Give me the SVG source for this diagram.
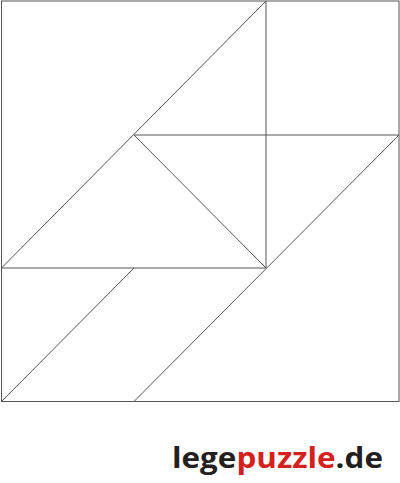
<svg xmlns="http://www.w3.org/2000/svg" width="400" height="483" viewBox="0 0 400 483">
<style>
.p{fill:none;stroke:#555;stroke-width:1}
.logo{font-family:"Open Sans","Liberation Sans",sans-serif;font-weight:bold;font-size:29px}
</style>
<rect width="400" height="483" fill="#fff"/>
<g id="puzzle">
<rect id="frame" class="p" x="1.5" y="1" width="397.5" height="400.5"/>
<line class="p" x1="266" y1="1" x2="1.5" y2="268"/>
<line class="p" x1="266" y1="1" x2="266" y2="268"/>
<line class="p" x1="134" y1="135" x2="399" y2="135"/>
<line class="p" x1="1.5" y1="268" x2="266" y2="268"/>
<line class="p" x1="134" y1="135" x2="266" y2="268"/>
<line class="p" x1="399" y1="135" x2="134" y2="401.5"/>
<line class="p" x1="134" y1="268" x2="1.5" y2="401.5"/>
</g>
<g id="logo">
<text class="logo" x="172" y="468" textLength="211" lengthAdjust="spacingAndGlyphs"><tspan fill="#231f20">lege</tspan><tspan fill="#d3211e">puzzle</tspan><tspan fill="#231f20">.de</tspan></text>
</g>
</svg>
